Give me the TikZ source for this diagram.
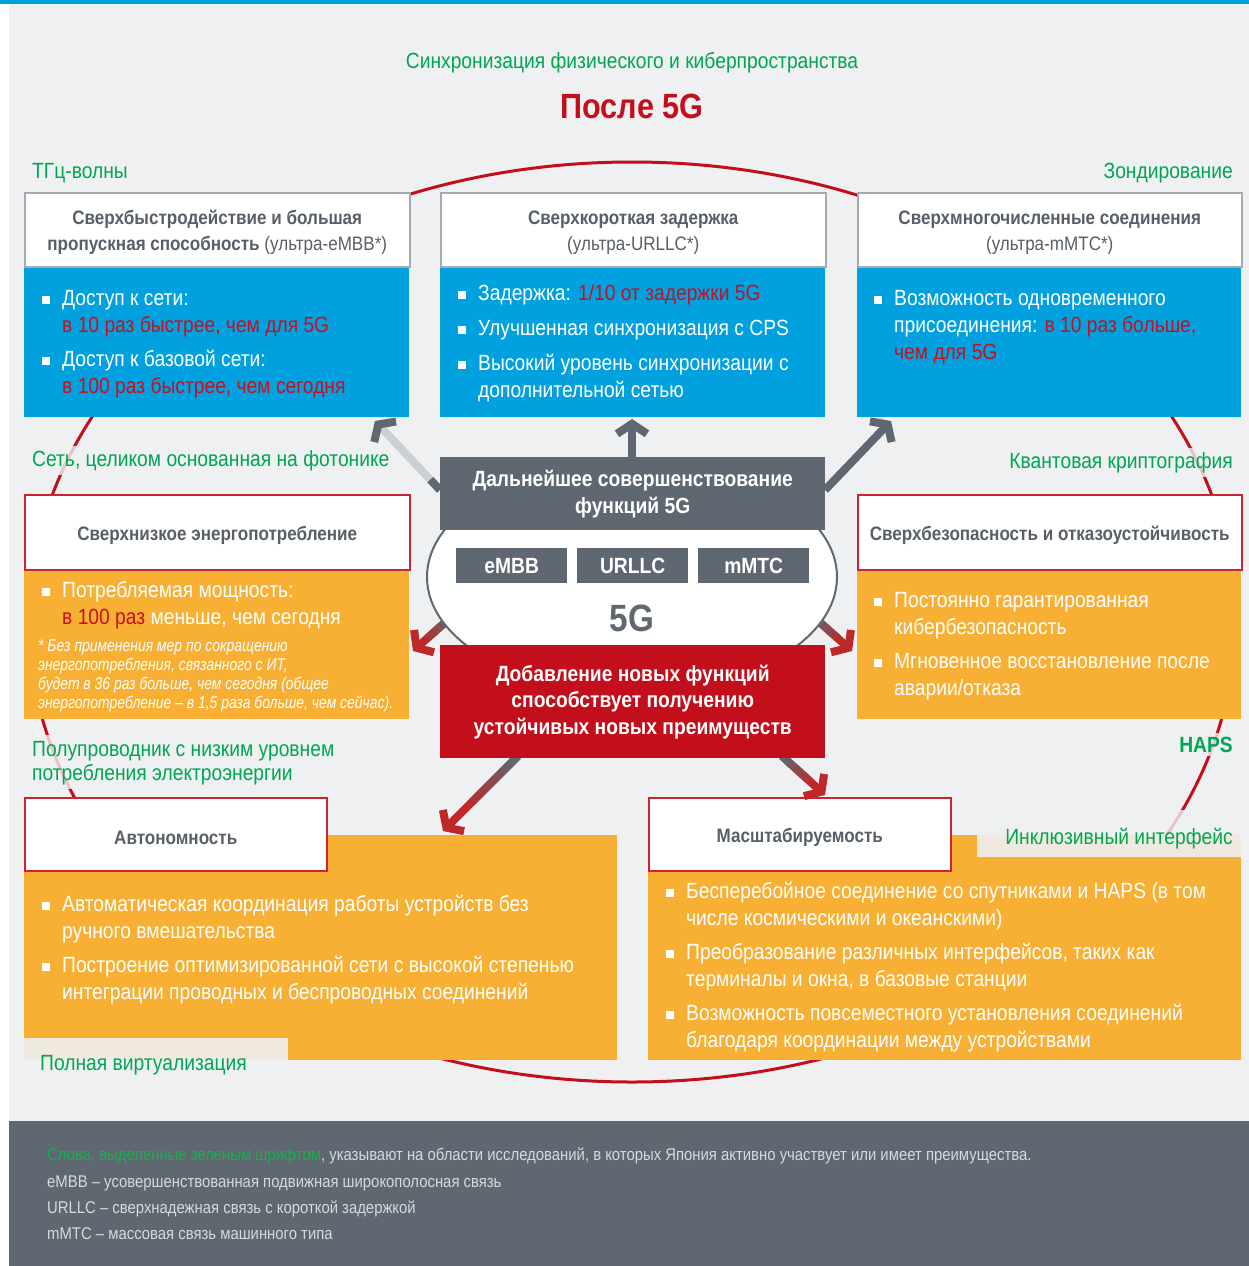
\documentclass[tikz,border=0pt]{standalone}
\usepackage{fontspec}
\setmainfont{Liberation Sans}[FakeStretch=0.875]
\newfontfamily\notefont{Liberation Sans}[FakeStretch=0.82]
\usetikzlibrary{arrows.meta,calc}
\definecolor{bgc}{RGB}{238,240,242}
\definecolor{topbar}{RGB}{0,160,223}
\definecolor{bluebox}{RGB}{0,161,222}
\definecolor{orbox}{RGB}{247,176,52}
\definecolor{dgray}{RGB}{95,103,112}
\definecolor{hdrgray}{RGB}{88,95,104}
\definecolor{hdrline}{RGB}{165,170,176}
\definecolor{redbox}{RGB}{195,15,27}
\definecolor{redline}{RGB}{205,35,50}
\definecolor{hl}{RGB}{200,16,30}
\definecolor{grn}{RGB}{0,166,81}
\definecolor{footgrn}{RGB}{20,178,75}
\definecolor{beige}{RGB}{239,233,223}
\definecolor{foottxt}{RGB}{214,217,221}
\definecolor{lgarr}{RGB}{204,207,211}
\definecolor{arrred}{RGB}{190,40,40}
\newcommand\bsq{\leavevmode\llap{\rule[1pt]{8pt}{8pt}\hspace{12pt}}}
\newcommand\fl{\rule{0pt}{17.6pt}}
\newcommand\hs{\rule{0pt}{20pt}}
\newcommand\gradarrow[2]{%
  \draw[arr, draw=arrred, -{Straight Barb[length=10pt,width=30pt]}] (#1) -- (#2);
  \foreach \p/\m in {0/0,0.1/15,0.2/30,0.3/45,0.4/60,0.5/75}{%
    \draw[arr, draw=arrred!\m!dgray] ($(#1)!\p!(#2)$) -- ($(#1)!\p+0.11!(#2)$);}%
}
\begin{document}
\begin{tikzpicture}[x=1pt,y=-1pt,
  every node/.style={inner sep=0pt},
  arr/.style={line width=8pt},
  hdr/.style={draw=hdrline, line width=1.5pt, fill=white, anchor=north west, align=center, text=hdrgray, font=\fontsize{19.5}{26}\selectfont},
  hdrr/.style={hdr, draw=redline},
  bodyb/.style={fill=bluebox, anchor=north west},
  bodyo/.style={fill=orbox, anchor=north west},
  btxt/.style={anchor=north west, align=left, text=white, font=\fontsize{22}{27}\selectfont},
  glab/.style={text=grn, font=\fontsize{22}{25}\selectfont},
  fade/.style={fill=bgc, fill opacity=0.8, text opacity=1, inner sep=4pt},
  mini/.style={fill=dgray, text=white, font=\bfseries\fontsize{22}{26}\selectfont, minimum width=111pt, minimum height=35pt, anchor=north west},
  foot/.style={anchor=base west, text=foottxt, font=\fontsize{17}{19}\selectfont},
]
% background
\fill[white] (0,0) rectangle (1249,1266);
\fill[bgc] (9,0) rectangle (1249,1121);
\fill[topbar] (0,0) rectangle (1249,3.5);
\fill[dgray] (9,1121) rectangle (1249,1266);

% big red ellipse
\draw[redbox, line width=3pt] (632,622) ellipse [x radius=603, y radius=460];

% titles
\node[anchor=base, text=grn, font=\fontsize{22}{26}\selectfont] (title) at (632,68) {Синхронизация физического и киберпространства};
\node[anchor=base, text=redbox, font=\bfseries\fontsize{35}{40}\selectfont] (after) at (632,118) {После 5G};

% top row
\node[bodyb, minimum width=385pt, minimum height=151pt] (b1) at (24,266) {};
\node[hdr, minimum width=385pt, minimum height=74pt] (h1) at (24,192) {\hs\textbf{Сверхбыстродействие и большая}\\\textbf{пропускная способность} (ультра-eMBB*)};
\node[btxt] (t1) at (62,287.4) {\fl\bsq Доступ к сети:\\\textcolor{hl}{в 10 раз быстрее, чем для 5G}\\[7pt]\bsq Доступ к базовой сети:\\\textcolor{hl}{в 100 раз быстрее, чем сегодня}};

\node[bodyb, minimum width=385pt, minimum height=151pt] (b2) at (440,266) {};
\node[hdr, minimum width=385pt, minimum height=74pt] (h2) at (440,192) {\hs\textbf{Сверхкороткая задержка}\\(ультра-URLLC*)};
\node[btxt] (t2) at (478,282.4) {\fl\bsq Задержка: \textcolor{hl}{1/10 от задержки 5G}\\[8pt]\bsq Улучшенная синхронизация с CPS\\[8pt]\bsq Высокий уровень синхронизации с\\дополнительной сетью};

\node[bodyb, minimum width=384pt, minimum height=151pt] (b3) at (857,266) {};
\node[hdr, minimum width=384pt, minimum height=74pt] (h3) at (857,192) {\hs\textbf{Сверхмногочисленные соединения}\\(ультра-mMTC*)};
\node[btxt] (t3) at (894,287.4) {\fl\bsq Возможность одновременного\\присоединения: \textcolor{hl}{в 10 раз больше,}\\\textcolor{hl}{чем для 5G}};

% middle row
\node[bodyo, minimum width=385pt, minimum height=150pt] (b4) at (24,569) {};
\node[hdrr, minimum width=385pt, minimum height=75pt] (h4) at (24,494) {\hs\textbf{Сверхнизкое энергопотребление}};
\node[btxt] (t4) at (62,579.4) {\fl\bsq Потребляемая мощность:\\\textcolor{hl}{в 100 раз} меньше, чем сегодня};
\node[anchor=north west, align=left, text=white, font=\notefont\itshape\fontsize{17}{19}\selectfont] (n4) at (38,637.4) {\rule{0pt}{13.6pt}* Без применения мер по сокращению\\энергопотребления, связанного с ИТ,\\будет в 36 раз больше, чем сегодня (общее\\энергопотребление – в 1,5 раза больше, чем сейчас).};

\node[bodyo, minimum width=384pt, minimum height=150pt] (b5) at (857,569) {};
\node[hdrr, minimum width=384pt, minimum height=75pt] (h5) at (857,494) {\hs\textbf{Сверхбезопасность и отказоустойчивость}};
\node[btxt] (t5) at (894,589.4) {\fl\bsq Постоянно гарантированная\\кибербезопасность\\[7pt]\bsq Мгновенное восстановление после\\аварии/отказа};

% bottom row
\node[bodyo, minimum width=593pt, minimum height=225pt] (b6) at (24,835) {};
\node[hdrr, minimum width=302pt, minimum height=73pt] (h6) at (24,797) {\hs\textbf{Автономность}};
\node[fill=beige, minimum width=264pt, minimum height=22pt, anchor=north west] (v1) at (24,1038) {};
\node[btxt] (t6) at (62,893.4) {\fl\bsq Автоматическая координация работы устройств без\\ручного вмешательства\\[7pt]\bsq Построение оптимизированной сети с высокой степенью\\интеграции проводных и беспроводных соединений};

\node[bodyo, minimum width=593pt, minimum height=225pt] (b7) at (648,835) {};
\node[hdrr, minimum width=302pt, minimum height=73pt] (h7) at (648,797) {\hs\textbf{Масштабируемость}};
\node[fill=beige, minimum width=264pt, minimum height=22pt, anchor=north west] (v2) at (977,835) {};
\node[btxt] (t7) at (686,880.4) {\fl\bsq Бесперебойное соединение со спутниками и HAPS (в том\\числе космическими и океанскими)\\[7pt]\bsq Преобразование различных интерфейсов, таких как\\терминалы и окна, в базовые станции\\[7pt]\bsq Возможность повсеместного установления соединений\\благодаря координации между устройствами};

% green labels
\node[glab, anchor=base west] (l1) at (32,178) {ТГц-волны};
\node[glab, anchor=base east] (l2) at (1233,178) {Зондирование};
\node[glab, fade, anchor=base west] (l3) at (28,466) {Сеть, целиком основанная на фотонике};
\node[glab, fade, anchor=base east] (l4) at (1237,468) {Квантовая криптография};
\node[glab, fade, anchor=north west, align=left, font=\fontsize{22}{24}\selectfont] (l5) at (28,734.4) {\fl Полупроводник с низким уровнем\\потребления электроэнергии};
\node[glab, fade, anchor=base east, font=\bfseries\fontsize{22}{25}\selectfont] (l6) at (1237,752) {HAPS};
\fill[bgc, opacity=0.8] (1120,810) rectangle (1241,835);
\node[glab, anchor=base east] (l7) at (1233,844) {Инклюзивный интерфейс};
\node[glab, anchor=base west] (l8) at (40,1070) {Полная виртуализация};

% arrows
\coordinate (au0) at (632,457); \coordinate (au1) at (632,419);
\coordinate (ul0) at (440,490); \coordinate (ul1) at (375,421);
\coordinate (ur0) at (825,490); \coordinate (ur1) at (891,421);
\coordinate (ll0) at (450,618); \coordinate (ll1) at (413,651);
\coordinate (lr0) at (815,618); \coordinate (lr1) at (852,651);
\coordinate (bl0) at (518,756); \coordinate (bl1) at (443,831);
\coordinate (br0) at (782,756); \coordinate (br1) at (825,795);

\draw[arr, dgray, -{Straight Barb[length=10pt,width=30pt]}] (au0) -- (au1);
\draw[arr, draw=lgarr, -{Straight Barb[length=10pt,width=30pt,dgray]}] (ul0) -- (ul1);
\draw[arr, draw=dgray] (ul0) -- ($(ul0)!0.15!(ul1)$);
\draw[arr, dgray, -{Straight Barb[length=10pt,width=30pt]}] (ur0) -- (ur1);
\gradarrow{ll0}{ll1}
\gradarrow{lr0}{lr1}
\gradarrow{bl0}{bl1}
\gradarrow{br0}{br1}

% center
\draw[dgray, line width=2pt, fill=white] (632,577) ellipse [x radius=205, y radius=116];
\node[fill=dgray, minimum width=385pt, minimum height=73pt, anchor=north west, align=center, text=white, font=\bfseries\fontsize{22}{27}\selectfont] (g) at (440,457) {Дальнейшее совершенствование\\функций 5G};
\node[mini] (m1) at (456,548) {eMBB};
\node[mini] (m2) at (577,548) {URLLC};
\node[mini] (m3) at (698,548) {mMTC};
\node[anchor=base, text=dgray, font=\bfseries\fontsize{38}{40}\selectfont] (five) at (632,631) {5G};
\node[fill=redbox, minimum width=385pt, minimum height=113pt, anchor=north west, align=center, text=white, font=\bfseries\fontsize{22}{26.5}\selectfont] (r) at (440,645) {Добавление новых функций\\способствует получению\\устойчивых новых преимуществ};

% footer
\node[foot] (f1) at (47,1160) {\textcolor{footgrn}{Слова, выделенные зеленым шрифтом}, указывают на области исследований, в которых Япония активно участвует или имеет преимущества.};
\node[foot] (f2) at (47,1187) {eMBB – усовершенствованная подвижная широкополосная связь};
\node[foot] (f3) at (47,1213) {URLLC – сверхнадежная связь с короткой задержкой};
\node[foot] (f4) at (47,1239) {mMTC – массовая связь машинного типа};
\end{tikzpicture}
\end{document}
